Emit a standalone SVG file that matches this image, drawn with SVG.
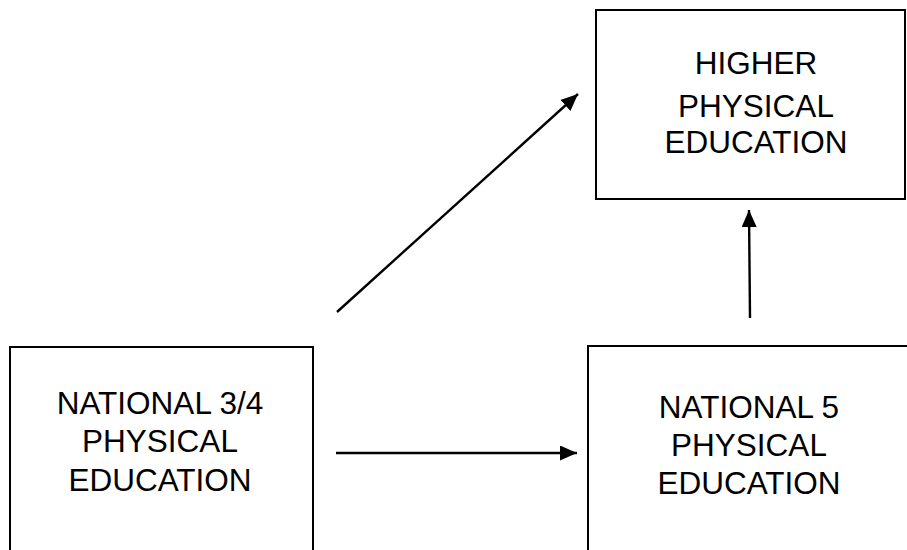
<svg xmlns="http://www.w3.org/2000/svg" width="907" height="550" viewBox="0 0 907 550">
  <style>
    .box { fill: #ffffff; stroke: #000000; stroke-width: 2; }
    .label { font-family: "Liberation Sans", Arial, sans-serif; font-size: 31.5px; fill: #000000; text-anchor: middle; }
    .link { stroke: #000000; stroke-width: 2.4; fill: none; marker-end: url(#head); }
  </style>
  <defs>
    <marker id="head" markerUnits="userSpaceOnUse" markerWidth="18" markerHeight="15" refX="17" refY="7.5" orient="auto">
      <path d="M0,0 L17,7.5 L0,15 Z" fill="#000000"/>
    </marker>
  </defs>

  <g id="connectors">
    <line class="link" x1="337" y1="312" x2="578" y2="94"/>
    <line class="link" x1="336" y1="453" x2="577" y2="453"/>
    <line class="link" x1="750" y1="318" x2="749" y2="210"/>
  </g>

  <g id="higher">
    <rect class="box" x="596" y="10" width="309" height="189"/>
    <text class="label" x="756" y="74">HIGHER</text>
    <text class="label" x="756" y="117">PHYSICAL</text>
    <text class="label" x="756" y="153">EDUCATION</text>
  </g>

  <g id="national34">
    <rect class="box" x="10" y="347" width="303" height="220"/>
    <text class="label" x="160" y="414">NATIONAL 3/4</text>
    <text class="label" x="160" y="452">PHYSICAL</text>
    <text class="label" x="160" y="491">EDUCATION</text>
  </g>

  <g id="national5">
    <rect class="box" x="588" y="346" width="330" height="220"/>
    <text class="label" x="749" y="418">NATIONAL 5</text>
    <text class="label" x="749" y="456">PHYSICAL</text>
    <text class="label" x="749" y="494">EDUCATION</text>
  </g>
</svg>
